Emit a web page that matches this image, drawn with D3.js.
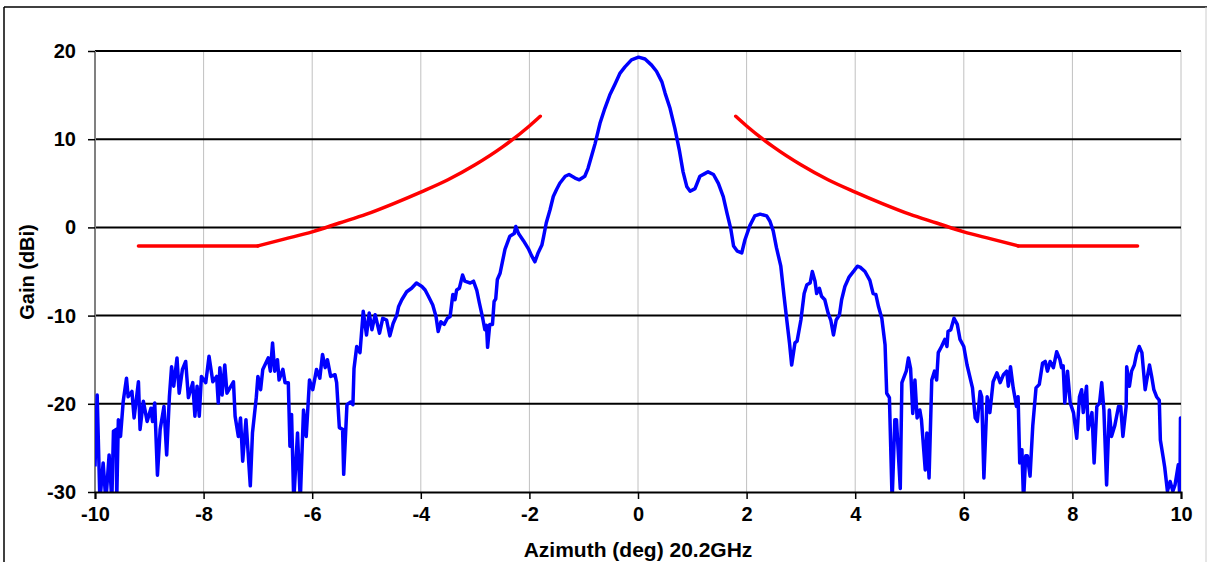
<!DOCTYPE html>
<html>
<head>
<meta charset="utf-8">
<script src="https://cdn.jsdelivr.net/npm/d3@7"></script>
<style>
  body { margin: 0; background: #fff; }
  text { font-family: "Liberation Sans", Arial, sans-serif; font-weight: bold; fill: #000; }
</style>
</head>
<body>
<svg id="chart" width="1208" height="562"></svg>
<script>
// measured gain, azimuth (deg) vs dBi
var azimuth = [-10.00,-9.96,-9.91,-9.85,-9.80,-9.74,-9.69,-9.66,-9.61,-9.60,-9.57,-9.53,-9.48,-9.42,-9.39,-9.32,-9.28,-9.20,-9.17,-9.11,
  -9.04,-8.97,-8.94,-8.90,-8.85,-8.80,-8.73,-8.68,-8.63,-8.59,-8.55,-8.49,-8.45,-8.39,-8.33,-8.28,-8.20,-8.16,-8.12,-8.08,
  -8.04,-7.96,-7.90,-7.83,-7.76,-7.73,-7.70,-7.66,-7.61,-7.57,-7.45,-7.42,-7.36,-7.32,-7.28,-7.22,-7.14,-7.10,-7.03,-7.00,
  -6.95,-6.91,-6.81,-6.77,-6.73,-6.69,-6.64,-6.61,-6.54,-6.50,-6.44,-6.41,-6.38,-6.34,-6.27,-6.22,-6.16,-6.11,-6.05,-5.99,
  -5.92,-5.86,-5.81,-5.76,-5.72,-5.66,-5.58,-5.55,-5.50,-5.44,-5.42,-5.36,-5.29,-5.25,-5.23,-5.18,-5.12,-5.06,-5.00,-4.95,
  -4.90,-4.84,-4.76,-4.70,-4.63,-4.57,-4.51,-4.44,-4.41,-4.35,-4.26,-4.17,-4.08,-3.98,-3.92,-3.86,-3.78,-3.72,-3.68,-3.63,
  -3.57,-3.51,-3.46,-3.41,-3.37,-3.34,-3.29,-3.23,-3.19,-3.09,-3.03,-2.97,-2.92,-2.86,-2.82,-2.79,-2.77,-2.73,-2.68,-2.65,
  -2.62,-2.59,-2.54,-2.50,-2.45,-2.36,-2.28,-2.25,-2.20,-2.11,-2.02,-1.96,-1.90,-1.84,-1.77,-1.74,-1.69,-1.62,-1.56,-1.50,
  -1.44,-1.34,-1.27,-1.16,-1.08,-0.98,-0.92,-0.85,-0.79,-0.70,-0.61,-0.52,-0.42,-0.33,-0.24,-0.12,0.01,0.13,0.25,0.34,
  0.44,0.50,0.59,0.68,0.76,0.83,0.90,0.96,1.05,1.14,1.23,1.29,1.39,1.48,1.57,1.64,1.71,1.76,1.83,1.91,
  1.97,2.06,2.15,2.25,2.37,2.43,2.49,2.55,2.63,2.69,2.74,2.79,2.83,2.89,2.93,3.00,3.06,3.11,3.17,3.21,
  3.26,3.29,3.34,3.38,3.44,3.50,3.55,3.60,3.65,3.71,3.75,3.81,3.89,3.98,4.04,4.09,4.18,4.27,4.33,4.38,
  4.43,4.49,4.55,4.58,4.63,4.68,4.73,4.76,4.83,4.86,4.94,4.98,5.02,5.06,5.10,5.14,5.19,5.22,5.29,5.32,
  5.36,5.41,5.46,5.50,5.53,5.59,5.65,5.69,5.71,5.76,5.82,5.88,5.93,6.00,6.06,6.16,6.21,6.25,6.30,6.33,
  6.37,6.43,6.48,6.54,6.61,6.67,6.73,6.79,6.82,6.86,6.91,6.97,7.00,7.03,7.07,7.10,7.14,7.17,7.22,7.27,
  7.33,7.39,7.45,7.50,7.54,7.59,7.65,7.71,7.77,7.80,7.83,7.86,7.91,7.96,8.02,8.08,8.13,8.17,8.20,8.26,
  8.29,8.36,8.40,8.45,8.50,8.54,8.58,8.63,8.68,8.72,8.78,8.85,8.89,8.93,8.99,9.00,9.05,9.09,9.14,9.18,
  9.23,9.28,9.34,9.37,9.42,9.46,9.50,9.55,9.60,9.62,9.67,9.70,9.75,9.80,9.85,9.89,9.95,9.98,9.99,10.00];
var gain = [-27.1,-19.0,-31,-26.7,-31,-25.8,-31,-23.1,-22.9,-31,-21.8,-23.7,-19.7,-17.1,-19.2,-18.6,-21.6,-17.5,-22.9,-19.7,
  -22.0,-20.5,-22.0,-19.9,-28.1,-22.9,-20.3,-25.8,-19.2,-15.8,-18.0,-14.8,-18.8,-16.1,-15.2,-19.3,-17.6,-21.4,-18.0,-21.4,
  -16.9,-17.6,-14.6,-17.5,-16.9,-19.9,-15.9,-19.0,-15.6,-18.8,-17.5,-21.4,-23.7,-21.6,-26.5,-21.8,-29.3,-23.3,-19.3,-16.9,
  -18.4,-16.1,-14.8,-16.3,-13.1,-16.3,-15.0,-17.3,-16.1,-17.6,-17.6,-24.8,-21.2,-31,-23.3,-31,-20.7,-23.7,-17.3,-18.4,
  -16.1,-17.1,-14.4,-15.9,-15.0,-16.9,-16.7,-17.6,-22.7,-22.9,-28.0,-20.1,-19.8,-20.1,-16.0,-13.5,-14.2,-9.5,-12.2,-9.7,
  -11.6,-9.9,-12.0,-10.3,-10.5,-12.3,-10.9,-9.9,-9.0,-8.2,-7.3,-6.9,-6.3,-6.7,-7.1,-7.8,-8.8,-10.1,-11.8,-10.7,
  -11.0,-10.3,-10.1,-7.6,-8.2,-7.1,-6.9,-5.4,-6.1,-6.3,-6.1,-7.1,-8.6,-10.3,-11.6,-11.1,-13.6,-11.0,-11.0,-8.4,
  -8.1,-5.9,-5.2,-4.0,-2.5,-1.0,-0.7,0.1,-0.7,-1.5,-2.4,-3.2,-3.9,-2.9,-2.0,-1.1,0.5,2.0,3.5,4.3,
  5.0,5.8,6.0,5.6,5.4,5.8,6.7,8.2,9.5,11.8,13.5,15.0,16.3,17.5,18.2,19.0,19.3,19.1,18.4,17.7,
  16.5,15.2,13.5,11.2,8.8,6.3,4.6,4.1,4.4,5.8,6.1,6.3,6.0,5.0,3.5,1.6,-0.2,-2.1,-2.7,-2.9,
  -1.4,0.2,1.3,1.5,1.3,0.7,-0.4,-2.3,-4.4,-7.8,-10.5,-13.1,-15.6,-13.1,-12.9,-10.5,-7.5,-6.5,-6.3,-5.0,
  -6.1,-7.5,-6.9,-7.8,-8.2,-9.7,-10.5,-12.2,-10.5,-9.9,-8.2,-6.7,-5.6,-4.9,-4.4,-4.5,-5.0,-6.0,-7.5,-7.6,
  -9.0,-10.3,-13.3,-18.8,-19.3,-31,-21.8,-21.8,-29.6,-17.6,-16.3,-14.8,-16.0,-21.1,-17.3,-21.6,-20.7,-21.8,-27.5,-23.3,
  -28.4,-17.3,-16.3,-17.3,-14.2,-13.5,-12.7,-13.5,-11.8,-11.6,-10.3,-11.0,-12.7,-13.5,-15.6,-18.2,-21.6,-22.0,-18.6,-19.2,
  -28.4,-19.2,-21.0,-17.5,-16.5,-17.6,-16.7,-16.3,-18.0,-15.8,-18.2,-20.3,-19.2,-26.7,-25.2,-31,-25.9,-25.9,-28.2,-22.5,
  -18.2,-17.8,-15.4,-15.2,-16.3,-15.2,-15.9,-14.1,-15.0,-15.9,-15.7,-19.9,-16.3,-19.9,-21.0,-23.9,-19.2,-18.4,-21.0,-18.0,
  -22.9,-21.0,-26.7,-20.3,-19.9,-17.6,-20.7,-29.2,-20.7,-23.7,-22.5,-20.3,-20.3,-23.7,-20.3,-15.8,-18.0,-16.3,-15.6,-14.4,
  -13.5,-14.2,-18.4,-17.3,-15.6,-16.9,-18.4,-19.2,-19.6,-24.1,-26.0,-27.2,-29.9,-28.8,-29.9,-29.2,-26.9,-31,-21.6,-21.9];

// mask (red) points; flat floor plus the sloped part, each side
var maskFloorAz  = [7.0, 9.2];
var maskFloorDb  = -2.1;
var maskSlopeAz  = [1.8,2.0,2.5,3.0,3.5,4.0,4.5,5.0,5.5,6.0,6.5,7.0];
var maskSlopeDb  = [12.6,11.5,9.1,7.1,5.4,4.0,2.7,1.5,0.5,-0.5,-1.3,-2.1];

var xTicks = [-10,-8,-6,-4,-2,0,2,4,6,8,10];
var yTicks = [-30,-20,-10,0,10,20];

var svg = d3.select("#chart");
var pLeft = 95, pRight = 1181, pTop = 51, pBottom = 492;

// outer frame
svg.append("line").attr("x1",4).attr("y1",7).attr("x2",4).attr("y2",562).attr("stroke","#000").attr("stroke-width",1.5);
svg.append("line").attr("x1",4).attr("y1",7).attr("x2",1207).attr("y2",7).attr("stroke","#000").attr("stroke-width",1.5);
svg.append("line").attr("x1",1206).attr("y1",7).attr("x2",1206).attr("y2",562).attr("stroke","#ccc").attr("stroke-width",1);

var x = d3.scaleLinear().domain([-10,10]).range([pLeft,pRight]);
var y = d3.scaleLinear().domain([-30,20]).range([pBottom,pTop]);

// vertical grid
svg.append("g").selectAll("line").data(xTicks.slice(1)).enter().append("line")
  .attr("x1",function(d){ return x(d); }).attr("x2",function(d){ return x(d); })
  .attr("y1",pTop).attr("y2",pBottom)
  .attr("stroke","#c0c0c0").attr("stroke-width",1);

// horizontal grid
svg.append("g").selectAll("line").data(yTicks.slice(1)).enter().append("line")
  .attr("x1",pLeft).attr("x2",pRight)
  .attr("y1",function(d){ return y(d); }).attr("y2",function(d){ return y(d); })
  .attr("stroke","#000").attr("stroke-width",2);

// left border
svg.append("line").attr("x1",pLeft).attr("x2",pLeft).attr("y1",pTop).attr("y2",pBottom)
  .attr("stroke","#808080").attr("stroke-width",2);

svg.append("clipPath").attr("id","plot").append("rect")
  .attr("x",pLeft).attr("y",pTop-2).attr("width",pRight-pLeft).attr("height",pBottom-pTop+2);

var line = d3.line().x(function(d){ return x(d[0]); }).y(function(d){ return y(d[1]); });

var blue = azimuth.map(function(a,i){ return [a, gain[i]]; });
svg.append("path").datum(blue).attr("d",line).attr("clip-path","url(#plot)")
  .attr("fill","none").attr("stroke","#0000ff").attr("stroke-width",3.5).attr("stroke-linejoin","round");

var maskLine = d3.line().curve(d3.curveMonotoneX)
  .x(function(d){ return x(d[0]); }).y(function(d){ return y(d[1]); });
[1,-1].forEach(function(side){
  var slope = maskSlopeAz.map(function(a,i){ return [side*a, maskSlopeDb[i]]; });
  var floor = maskFloorAz.map(function(a){ return [side*a, maskFloorDb]; });
  slope.sort(function(a,b){ return a[0]-b[0]; });
  floor.sort(function(a,b){ return a[0]-b[0]; });
  svg.append("path").datum(slope).attr("d",maskLine)
    .attr("fill","none").attr("stroke","#ff0000").attr("stroke-width",3.5).attr("stroke-linecap","round");
  svg.append("path").datum(floor).attr("d",line)
    .attr("fill","none").attr("stroke","#ff0000").attr("stroke-width",3.5).attr("stroke-linecap","round");
});

var fmt = function(d){ return String(d); };

// axes
var xAxis = d3.axisBottom(x).tickValues(xTicks).tickFormat(fmt).tickSize(7).tickPadding(8);
var gx = svg.append("g").attr("transform","translate(0,"+pBottom+")").call(xAxis);
gx.select(".domain").attr("stroke","#000").attr("stroke-width",2);
gx.selectAll(".tick line").attr("stroke","#000").attr("stroke-width",1.5);
gx.selectAll("text").style("font-size","20px");

var yAxis = d3.axisLeft(y).tickValues(yTicks).tickFormat(fmt).tickSize(7).tickPadding(12);
var gy = svg.append("g").attr("transform","translate("+pLeft+",0)").call(yAxis);
gy.select(".domain").remove();
gy.selectAll(".tick line").attr("stroke","#000").attr("stroke-width",1.5);
gy.selectAll("text").style("font-size","20px");

svg.append("text").attr("x",638).attr("y",557).attr("text-anchor","middle")
  .style("font-size","21px").text("Azimuth (deg) 20.2GHz");
svg.append("text").attr("transform","translate(34,272) rotate(-90)").attr("text-anchor","middle")
  .style("font-size","20px").text("Gain (dBi)");
</script>
</body>
</html>
